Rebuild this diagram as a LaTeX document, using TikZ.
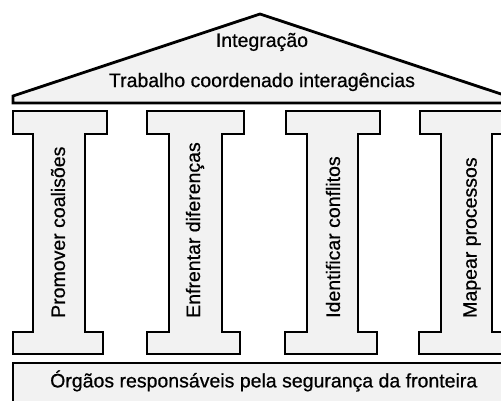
\documentclass[tikz,border=0pt]{standalone}
\usepackage{fontspec}
\setmainfont{Liberation Sans}
\newfontfamily\labfont{Liberation Sans}[FakeBold=0.6]
\begin{document}
\begin{tikzpicture}[x=1pt,y=-1pt,
  outline/.style={draw=black,line width=2.8pt,line join=miter,fill=black!5},
  lab/.style={font=\labfont\fontsize{19.5}{22}\selectfont,inner sep=0pt,text=black}]
\useasboundingbox (0,0) rectangle (501,401);
\clip (0,0) rectangle (501,401);
\fill[white] (0,0) rectangle (501,401);
% roof
\path[outline] (13,103) -- (13,96) -- (260,14) -- (507,96) -- (507,103) -- cycle;
\node[lab] (integ) at (262,42) {Integração};
\node[lab] (trab) at (262,82) {Trabalho coordenado interagências};
% pillars: cap left, cap right, shaft left, shaft right, base left, base right
\foreach \cl/\cr/\sl/\sr/\bl/\br/\n in {13/107/33/85/13/103/p1, 147/244/169/222/147/240/p2, 286/380/307/358/285/377/p3, 420/520/441/492/419/516/p4}{
  \path[outline] (\cl,111) -- (\cr,111) -- (\cr,134) -- (\sr,134) -- (\sr,332) -- (\br,332) -- (\br,354)
    -- (\bl,354) -- (\bl,332) -- (\sl,332) -- (\sl,134) -- (\cl,134) -- cycle;
}
\node[lab,rotate=90,anchor=west] (t1) at (58,318) {Promover coalisões};
\node[lab,rotate=90,anchor=west] (t2) at (195,318) {Enfrentar diferenças};
\node[lab,rotate=90,anchor=west] (t3) at (333,318) {Identificar conflitos};
\node[lab,rotate=90,anchor=west] (t4) at (472,318) {Mapear processos};
% foundation
\path[outline] (13,363) rectangle (530,420);
\node[lab,anchor=west] (base) at (50,381) {Órgãos responsáveis pela segurança da fronteira};
\end{tikzpicture}
\end{document}
